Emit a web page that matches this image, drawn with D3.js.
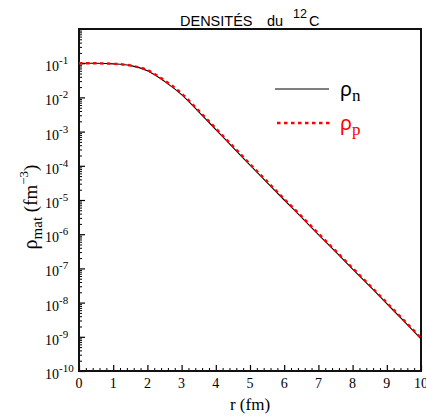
<!DOCTYPE html>
<html><head><meta charset="utf-8">
<script src="https://cdn.jsdelivr.net/npm/d3@7"></script>
<style>body{margin:0;background:#fff}svg{display:block}</style>
</head><body>
<script>
const radius = [0,0.5,1,1.5,2,2.5,3,3.5,4,4.5,5,5.5,6,6.5,7,7.5,8,8.5,9,9.5,10];
const rhoN = [1.00e-1,9.93e-2,9.55e-2,8.51e-2,6.03e-2,2.95e-2,1.20e-2,3.80e-3,1.15e-3,3.47e-4,1.05e-4,3.24e-5,1.00e-5,3.16e-6,9.77e-7,3.09e-7,9.55e-8,3.02e-8,9.33e-9,2.88e-9,8.71e-10];
const rhoP = [1.00e-1,9.93e-2,9.60e-2,8.60e-2,6.30e-2,3.15e-2,1.30e-2,4.10e-3,1.24e-3,3.75e-4,1.13e-4,3.50e-5,1.08e-5,3.40e-6,1.05e-6,3.30e-7,1.02e-7,3.20e-8,9.90e-9,3.05e-9,9.20e-10];
const xTicks = [0,1,2,3,4,5,6,7,8,9,10];
const yExps = [-10,-9,-8,-7,-6,-5,-4,-3,-2,-1];

const W=426,H=417;
const L=79,R=421,T=29,B=371;
const SERIF="Liberation Serif", SANS="Liberation Sans";
const svg=d3.select("body").append("svg").attr("width",W).attr("height",H);
const x=d3.scaleLinear().domain([0,10]).range([L,R]);
const y=d3.scaleLog().domain([1e-10,1]).range([B,T]);

const yMinor=[];
for(let e=-10;e<0;e++) for(let m=2;m<=9;m++) yMinor.push(m*Math.pow(10,e));
const xMinor=[];
for(let i=0;i<=50;i++) if(i%5) xMinor.push(i/5);

svg.append("g").attr("transform",`translate(${L},0)`)
  .call(d3.axisRight(y).tickValues(yMinor).tickSize(3).tickFormat(""))
  .call(g=>g.select(".domain").remove());
svg.append("g").attr("transform",`translate(0,${B})`)
  .call(d3.axisTop(x).tickValues(xMinor).tickSize(3).tickFormat(""))
  .call(g=>g.select(".domain").remove());

const yAx=svg.append("g").attr("transform",`translate(${L},0)`)
  .call(d3.axisRight(y).tickValues(yExps.map(e=>Math.pow(10,e))).tickSize(6).tickFormat(""));
yAx.select(".domain").remove();
yAx.selectAll(".tick line").attr("stroke-width",1.2);
const xAx=svg.append("g").attr("transform",`translate(0,${B})`)
  .call(d3.axisTop(x).tickValues(xTicks).tickSize(6).tickFormat(""));
xAx.select(".domain").remove();
xAx.selectAll(".tick line").attr("stroke-width",1.2);

yExps.forEach(e=>{
  const t=svg.append("text").attr("font-family",SERIF).attr("x",45).attr("y",y(Math.pow(10,e))+8)
    .attr("font-size",14).attr("fill","#000");
  t.append("tspan").text("10");
  t.append("tspan").attr("dy",-7).attr("font-size",11).text(String(e));
});
xTicks.forEach(v=>{
  svg.append("text").attr("font-family",SERIF).attr("x",x(v)).attr("y",B+17).attr("text-anchor","middle")
    .attr("font-size",14).text(v);
});

svg.append("rect").attr("x",L).attr("y",T).attr("width",R-L).attr("height",B-T)
  .attr("fill","none").attr("stroke","#111").attr("stroke-width",2);

const line=d3.line().x(d=>x(d[0])).y(d=>y(d[1])).curve(d3.curveMonotoneX);
svg.append("path").datum(radius.map((r,i)=>[r,rhoN[i]])).attr("d",line)
  .attr("fill","none").attr("stroke","#000").attr("stroke-width",1.1);
svg.append("path").datum(radius.map((r,i)=>[r,rhoP[i]])).attr("d",line)
  .attr("fill","none").attr("stroke","#ff0000").attr("stroke-width",2.4).attr("stroke-dasharray","3.5,3.5");

svg.append("line").attr("x1",275).attr("x2",329).attr("y1",89).attr("y2",89).attr("stroke","#000").attr("stroke-width",1.1);
svg.append("line").attr("x1",277).attr("x2",330).attr("y1",123).attr("y2",123).attr("stroke","#ff0000").attr("stroke-width",2.4).attr("stroke-dasharray","3.5,3.5");
const ln=svg.append("text").attr("x",340).attr("y",96).attr("font-family","Noto Sans").attr("font-size",20).attr("fill","#000");
ln.append("tspan").text("ρ");
ln.append("tspan").attr("dy",5).attr("font-family",SERIF).attr("font-size",17).text("n");
const lp=svg.append("text").attr("x",340).attr("y",130).attr("font-family","Noto Sans").attr("font-size",20).attr("fill","#ff0000");
lp.append("tspan").text("ρ");
lp.append("tspan").attr("dy",5).attr("font-family",SERIF).attr("font-size",17).text("p");

const tt=svg.append("text").attr("y",26).attr("font-family",SANS).attr("font-size",14.5).attr("fill","#000");
tt.append("tspan").attr("x",180).text("DENSITÉS");
tt.append("tspan").attr("x",267).text("du");
tt.append("tspan").attr("x",293).attr("dy",-8).attr("font-size",12.5).text("12");
tt.append("tspan").attr("x",309).attr("dy",8).text("C");

svg.append("text").attr("font-family",SERIF).attr("x",x(5)).attr("y",410).attr("text-anchor","middle")
  .attr("font-size",17).text("r (fm)");
const yl=svg.append("text").attr("font-family",SERIF).attr("transform","translate(37,207) rotate(-90)").attr("text-anchor","middle")
  .attr("font-size",20).attr("fill","#000");
yl.append("tspan").text("ρ");
yl.append("tspan").attr("dy",5).attr("font-size",15).text("mat");
yl.append("tspan").attr("dy",-5).attr("font-size",19).text(" (fm");
yl.append("tspan").attr("dy",-9).attr("font-size",13).text("−3");
yl.append("tspan").attr("dy",9).attr("font-size",19).text(")");
</script>
</body></html>
